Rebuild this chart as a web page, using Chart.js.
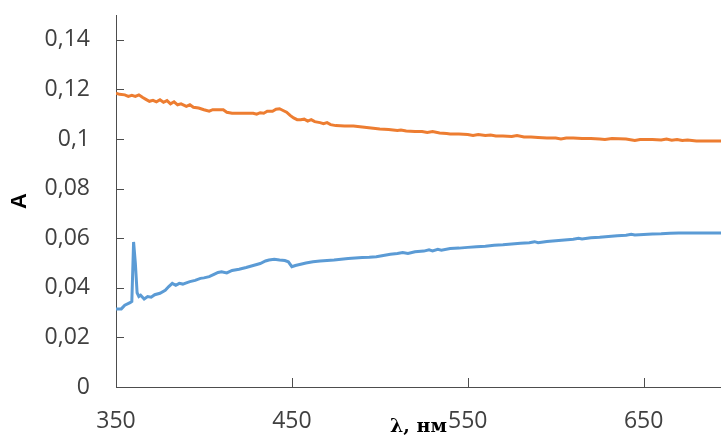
<!DOCTYPE html>
<html>
<head>
<meta charset="utf-8">
<script src="https://cdn.jsdelivr.net/npm/chart.js@4/dist/chart.umd.min.js"></script>
<style>
html,body{margin:0;padding:0;background:#fff;}
#wrap{width:721px;height:439px;position:relative;}
</style>
</head>
<body>
<div id="wrap"><canvas id="c" width="721" height="439"></canvas></div>
<script>
// ---- data ----
const xTicks = [350, 450, 550, 650];
const yTicks = [0, 0.02, 0.04, 0.06, 0.08, 0.1, 0.12, 0.14];
const xTitle = 'λ, нм';
const yTitle = 'A';

const blueNm = [350,353,355,358,359,360,361,362,363,364,366,368,370,372,375,378,380,382,384,386,388,390,392,395,398,400,403,406,408,410,413,416,420,424,428,432,435,437,440,443,446,448,450,452,455,458,462,466,470,474,478,482,486,490,494,498,502,506,510,513,516,520,525,528,530,533,535,540,545,550,555,560,565,570,575,580,585,588,590,595,600,605,610,613,615,620,625,630,635,640,643,645,650,655,660,665,670,680,690,700];
const blueA  = [0.0315,0.0315,0.0330,0.0340,0.0345,0.0585,0.0500,0.0380,0.0365,0.0370,0.0355,0.0365,0.0362,0.0372,0.0378,0.0390,0.0405,0.0418,0.0410,0.0418,0.0415,0.0420,0.0425,0.0430,0.0438,0.0440,0.0445,0.0455,0.0462,0.0465,0.0460,0.0470,0.0475,0.0482,0.0490,0.0498,0.0508,0.0512,0.0515,0.0512,0.0510,0.0505,0.0485,0.0490,0.0495,0.0500,0.0505,0.0508,0.0510,0.0512,0.0515,0.0518,0.0520,0.0522,0.0523,0.0525,0.0530,0.0535,0.0538,0.0542,0.0538,0.0545,0.0548,0.0553,0.0549,0.0555,0.0552,0.0558,0.0560,0.0563,0.0566,0.0568,0.0572,0.0574,0.0577,0.0580,0.0582,0.0586,0.0582,0.0587,0.0590,0.0593,0.0596,0.0600,0.0597,0.0602,0.0604,0.0607,0.0610,0.0612,0.0616,0.0613,0.0615,0.0617,0.0618,0.0620,0.0621,0.0621,0.0621,0.0621];

const orangeNm = [350,352,355,357,359,361,363,365,367,369,371,373,375,377,379,381,383,385,387,390,392,394,397,400,403,405,408,411,413,416,420,424,428,430,432,434,436,439,441,443,445,447,449,451,453,455,457,459,461,463,466,468,470,472,475,480,485,490,495,500,505,510,512,515,520,524,527,530,534,538,540,545,550,553,556,560,563,566,570,575,578,582,586,590,595,600,603,606,610,615,620,625,628,632,640,645,648,655,660,663,666,669,672,675,680,690,700];
const orangeA  = [0.1185,0.1180,0.1178,0.1172,0.1176,0.1172,0.1178,0.1168,0.1160,0.1152,0.1156,0.1150,0.1158,0.1148,0.1155,0.1142,0.1150,0.1138,0.1142,0.1132,0.1138,0.1128,0.1125,0.1118,0.1112,0.1118,0.1118,0.1118,0.1108,0.1104,0.1104,0.1104,0.1104,0.1100,0.1106,0.1104,0.1112,0.1112,0.1120,0.1122,0.1115,0.1108,0.1095,0.1085,0.1078,0.1078,0.1080,0.1072,0.1078,0.1070,0.1066,0.1062,0.1066,0.1058,0.1054,0.1052,0.1052,0.1048,0.1044,0.1040,0.1038,0.1034,0.1036,0.1032,0.1030,0.1030,0.1026,0.1030,0.1024,0.1022,0.1020,0.1020,0.1018,0.1014,0.1018,0.1014,0.1016,0.1012,0.1012,0.1010,0.1014,0.1008,0.1008,0.1006,0.1004,0.1004,0.1000,0.1004,0.1004,0.1002,0.1002,0.1000,0.0998,0.1002,0.1000,0.0994,0.0998,0.0998,0.0996,0.1000,0.0995,0.0998,0.0994,0.0996,0.0992,0.0992,0.0992];

const toPts = (xs, ys) => xs.map((x, i) => ({x: x, y: ys[i]}));
const axisColor = '#4d4d4d';
const labelColor = '#404040';

// inside tick marks, drawn through the library's scales
const innerTicks = {
  id: 'innerTicks',
  afterDraw(chart) {
    const ctx = chart.ctx, xs = chart.scales.x, ys = chart.scales.y;
    ctx.save();
    ctx.strokeStyle = axisColor;
    ctx.lineWidth = 1;
    ctx.beginPath();
    yTicks.forEach(v => {
      const py = Math.round(ys.getPixelForValue(v)) + 0.5;
      ctx.moveTo(xs.left, py); ctx.lineTo(xs.left + 8, py);
    });
    xTicks.forEach(v => {
      const px = Math.round(xs.getPixelForValue(v)) + 0.5;
      ctx.moveTo(px, ys.bottom); ctx.lineTo(px, ys.bottom - 9);
    });
    ctx.stroke();
    ctx.restore();
  }
};

new Chart(document.getElementById('c'), {
  type: 'line',
  data: {
    datasets: [
      {data: toPts(blueNm, blueA), borderColor: '#5B9BD5', borderWidth: 3, pointRadius: 0, tension: 0, fill: false},
      {data: toPts(orangeNm, orangeA), borderColor: '#ED7D31', borderWidth: 3, pointRadius: 0, tension: 0, fill: false}
    ]
  },
  options: {
    responsive: false,
    animation: false,
    events: [],
    layout: {padding: {top: 15, right: 0, bottom: 0, left: 0}},
    plugins: {legend: {display: false}, tooltip: {enabled: false}},
    scales: {
      x: {
        type: 'linear', min: 350, max: 694,
        afterBuildTicks: s => { s.ticks = xTicks.map(v => ({value: v})); },
        afterFit: s => { s.height = 52; },
        grid: {drawOnChartArea: false, drawTicks: true, tickLength: 21, tickColor: 'rgba(0,0,0,0)'},
        border: {display: true, color: axisColor, width: 1},
        ticks: {padding: 0, maxRotation: 0, autoSkip: false, color: labelColor,
                font: {family: 'Open Sans', size: 23}},
        title: {display: true, text: xTitle, color: '#000',
                font: {family: 'DejaVu Serif', size: 19, weight: 'bold'},
                padding: {top: 0, bottom: 1}}
      },
      y: {
        type: 'linear', min: 0, max: 0.15,
        afterBuildTicks: s => { s.ticks = yTicks.map(v => ({value: v})); },
        afterFit: s => { s.width = 116; },
        grid: {drawOnChartArea: false, drawTicks: true, tickLength: 26, tickColor: 'rgba(0,0,0,0)'},
        border: {display: true, color: axisColor, width: 1},
        ticks: {padding: 0, color: labelColor, font: {family: 'Open Sans', size: 23},
                callback: v => String(+v.toFixed(2)).replace('.', ',')},
        title: {display: true, text: yTitle, color: '#000',
                font: {family: 'Liberation Sans', size: 22, weight: 'bold'},
                padding: {top: 7, bottom: 0}}
      }
    }
  },
  plugins: [innerTicks]
});
</script>
</body>
</html>
